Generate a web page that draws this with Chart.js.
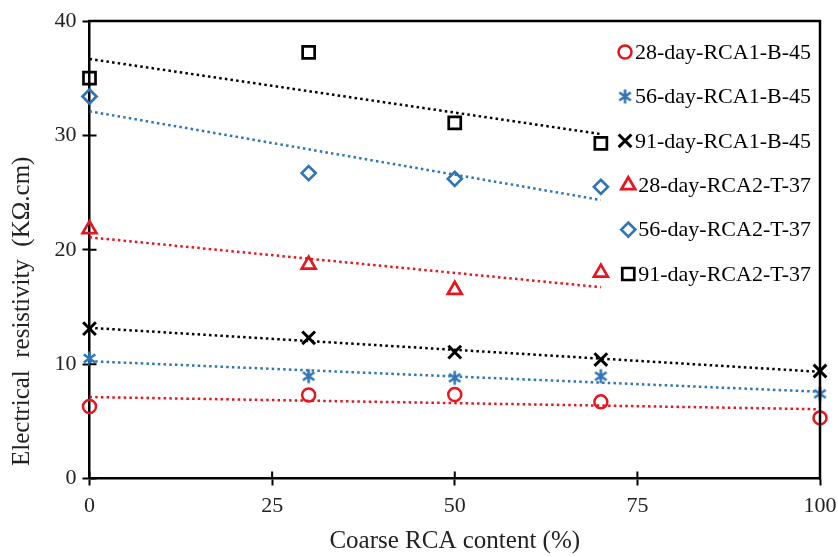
<!DOCTYPE html>
<html><head><meta charset="utf-8">
<script src="https://cdn.jsdelivr.net/npm/chart.js@4/dist/chart.umd.min.js"></script>
<style>html,body{margin:0;padding:0;background:#fff}#wrap{width:838px;height:557px}</style>
</head><body><div id="wrap"><canvas id="c" width="838" height="557"></canvas></div>
<script>
// ---- data ----
const xRCA1 = [0, 30, 50, 70, 100];
const xRCA2 = [0, 30, 50, 70];
const d28_RCA1 = [6.3, 7.3, 7.35, 6.7, 5.3];
const d56_RCA1 = [10.5, 8.95, 8.8, 8.95, 7.4];
const d91_RCA1 = [13.1, 12.3, 11.05, 10.4, 9.4];
const d28_RCA2 = [21.8, 18.7, 16.5, 18.0];
const d56_RCA2 = [33.4, 26.7, 26.2, 25.5];
const d91_RCA2 = [35.0, 37.25, 31.1, 29.3];
const seriesLabels = ['28-day-RCA1-B-45','56-day-RCA1-B-45','91-day-RCA1-B-45','28-day-RCA2-T-37','56-day-RCA2-T-37','91-day-RCA2-T-37'];
const xTicks = [0, 25, 50, 75, 100];
const yTicks = [0, 10, 20, 30, 40];
const xTitle = 'Coarse RCA content (%)';
const yTitle = '\u00A0\u00A0Electrical  resistivity  (K\u03A9.cm)';

const RED = '#E8141E', BLUE = '#2E75B6', BLACK = '#000000';
const FONT = "'Liberation Serif', 'Times New Roman', serif";

// asterisk marker (X plus vertical bar) as a small canvas
function asterisk(color, r, bw) {
  const s = Math.ceil(2 * r + bw + 2), c = document.createElement('canvas');
  c.width = s; c.height = s;
  const g = c.getContext('2d'), m = s / 2;
  g.strokeStyle = color; g.lineWidth = bw; g.lineCap = 'butt';
  g.beginPath();
  [90, 35, 145].forEach(a => {
    const rad = a * Math.PI / 180, dx = Math.cos(rad) * r, dy = Math.sin(rad) * r;
    g.moveTo(m - dx, m - dy); g.lineTo(m + dx, m + dy);
  });
  g.stroke();
  return c;
}

const seriesDefs = [
  {x: xRCA1, y: d28_RCA1, color: RED,   style: 'circle',   r: 6.5, bw: 2.5},
  {x: xRCA1, y: d56_RCA1, color: BLUE,  style: asterisk(BLUE, 7, 2.6), r: 7, bw: 2.6},
  {x: xRCA1, y: d91_RCA1, color: BLACK, style: 'crossRot', r: 9,   bw: 3},
  {x: xRCA2, y: d28_RCA2, color: RED,   style: 'triangle', r: 8,   bw: 2.7},
  {x: xRCA2, y: d56_RCA2, color: BLUE,  style: 'rectRot',  r: 7,   bw: 2.7},
  {x: xRCA2, y: d91_RCA2, color: BLACK, style: 'rect',     r: 8.5, bw: 2.7}
];

// least-squares linear trendline (as Excel) derived from each series
function fit(xs, ys) {
  const n = xs.length;
  const mx = xs.reduce((a, b) => a + b, 0) / n;
  const my = ys.reduce((a, b) => a + b, 0) / n;
  let sxy = 0, sxx = 0;
  for (let i = 0; i < n; i++) { sxy += (xs[i] - mx) * (ys[i] - my); sxx += (xs[i] - mx) ** 2; }
  const b = sxy / sxx, a = my - b * mx;
  const x0 = Math.min(...xs), x1 = Math.max(...xs);
  return [{x: x0, y: a + b * x0}, {x: x1, y: a + b * x1}];
}

const datasets = [];
seriesDefs.forEach((s, i) => {
  datasets.push({
    label: 'trend ' + seriesLabels[i],
    data: fit(s.x, s.y),
    showLine: true, borderColor: s.color, borderWidth: 2.5,
    borderDash: [2.5, 3.2], pointRadius: 0, order: 10, clip: false
  });
});
seriesDefs.forEach((s, i) => {
  datasets.push({
    label: seriesLabels[i],
    data: s.x.map((x, j) => ({x: x, y: s.y[j]})),
    showLine: false, pointStyle: s.style, pointRadius: s.r, pointHoverRadius: s.r,
    pointBorderWidth: s.bw, pointBorderColor: s.color, pointBackgroundColor: 'rgba(0,0,0,0)',
    borderColor: s.color, backgroundColor: 'rgba(0,0,0,0)', order: 1, clip: false
  });
});

// plot frame, inner tick halves and legend
const decor = {
  id: 'decor',
  afterDraw(chart) {
    const ctx = chart.ctx, ca = chart.chartArea;
    const xs = chart.scales.x, ys = chart.scales.y;
    ctx.save();
    ctx.strokeStyle = '#000'; ctx.lineWidth = 2.5; ctx.lineCap = 'square';
    ctx.beginPath();
    ctx.moveTo(ca.left, ca.top); ctx.lineTo(ca.right, ca.top); ctx.lineTo(ca.right, ca.bottom);
    ctx.stroke();
    ctx.lineWidth = 2; ctx.lineCap = 'butt';
    ctx.beginPath();
    yTicks.forEach(v => { const p = ys.getPixelForValue(v); ctx.moveTo(ca.left, p); ctx.lineTo(ca.left + 7, p); });
    xTicks.forEach(v => { const p = xs.getPixelForValue(v); ctx.moveTo(p, ca.bottom); ctx.lineTo(p, ca.bottom - 7); });
    ctx.stroke();
    // legend
    ctx.font = '22px ' + FONT;
    ctx.textBaseline = 'middle';
    ctx.textAlign = 'right';
    const rightX = 811, top = 52, step = 44.4;
    seriesDefs.forEach((s, i) => {
      const y = top + i * step;
      ctx.fillStyle = '#000';
      ctx.fillText(seriesLabels[i], rightX, y + 1);
      const w = ctx.measureText(seriesLabels[i]).width;
      const mx = rightX - w - 10;
      ctx.strokeStyle = s.color; ctx.fillStyle = 'rgba(0,0,0,0)'; ctx.lineWidth = s.bw;
      Chart.helpers.drawPoint(ctx, {pointStyle: s.style, radius: s.r, rotation: 0, borderWidth: s.bw}, mx, y);
    });
    ctx.restore();
  }
};

new Chart(document.getElementById('c'), {
  type: 'scatter',
  data: {datasets},
  options: {
    responsive: false, animation: false, devicePixelRatio: 1,
    layout: {padding: {top: 21, right: 18, left: 0, bottom: 0}},
    plugins: {legend: {display: false}, tooltip: {enabled: false}},
    scales: {
      x: {
        type: 'linear', min: 0, max: 100,
        afterFit: s => { s.height = 78.5; s.paddingRight = 10; s.paddingLeft = 0; },
        afterBuildTicks: s => { s.ticks = xTicks.map(v => ({value: v})); },
        ticks: {color: '#222', font: {family: FONT, size: 22}, padding: 8},
        grid: {display: true, drawOnChartArea: false, drawTicks: true, tickLength: 7, tickWidth: 2, tickColor: '#000'},
        border: {display: true, color: '#000', width: 2.5},
        title: {display: true, text: xTitle, color: '#222', font: {family: FONT, size: 25}, padding: {top: 1, bottom: 1}}
      },
      y: {
        type: 'linear', min: 0, max: 40,
        afterFit: s => { s.width = 89.5; },
        afterBuildTicks: s => { s.ticks = yTicks.map(v => ({value: v})); },
        ticks: {color: '#222', font: {family: FONT, size: 22}, padding: 6},
        grid: {display: true, drawOnChartArea: false, drawTicks: true, tickLength: 7, tickWidth: 2, tickColor: '#000'},
        border: {display: true, color: '#000', width: 2.5},
        title: {display: true, text: yTitle, align: 'start', color: '#222', font: {family: FONT, size: 25}, padding: {top: 7, bottom: 1}}
      }
    }
  },
  plugins: [decor]
});
</script></body></html>
